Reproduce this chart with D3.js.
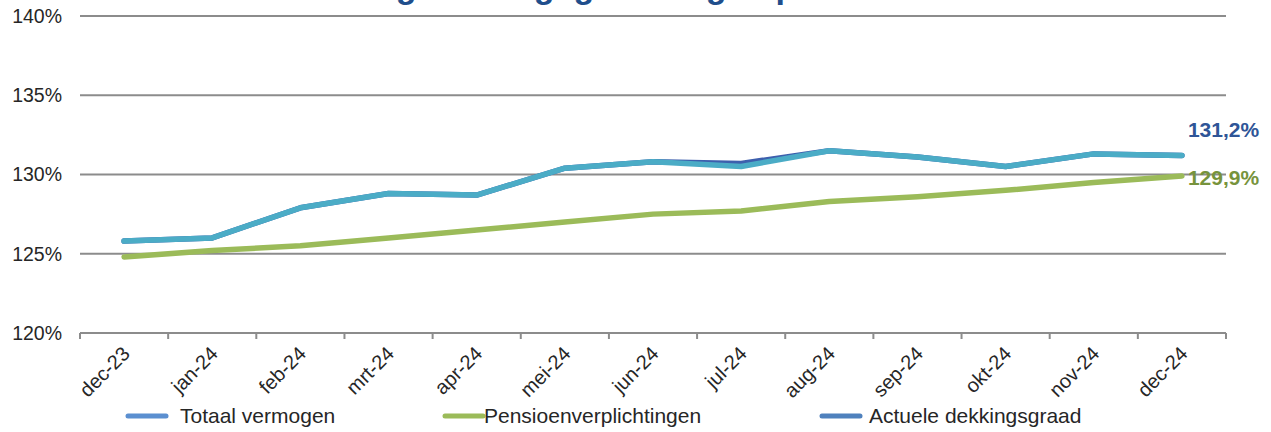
<!DOCTYPE html>
<html>
<head>
<meta charset="utf-8">
<script src="https://cdn.jsdelivr.net/npm/d3@7"></script>
<style>
  body { margin: 0; background: #fff; }
  svg { display: block; font-family: "Liberation Sans", Arial, sans-serif; }
</style>
</head>
<body>
<svg id="chart" width="1271" height="432"></svg>
<script>
const maanden = ["dec-23", "jan-24", "feb-24", "mrt-24", "apr-24", "mei-24", "jun-24",
                 "jul-24", "aug-24", "sep-24", "okt-24", "nov-24", "dec-24"];
const totaalVermogen = [125.8, 126.0, 127.9, 128.8, 128.7, 130.4, 130.8, 130.7, 131.5, 131.1, 130.5, 131.3, 131.2];
const actueleDekkingsgraad = [125.8, 126.0, 127.9, 128.8, 128.7, 130.4, 130.8, 130.5, 131.5, 131.1, 130.5, 131.3, 131.2];
const pensioenverplichtingen = [124.8, 125.2, 125.5, 126.0, 126.5, 127.0, 127.5, 127.7, 128.3, 128.6, 129.0, 129.5, 129.9];
const yTicks = [120, 125, 130, 135, 140];
const legendLabels = ["Totaal vermogen", "Pensioenverplichtingen", "Actuele dekkingsgraad"];
const titel = "Ontwikkeling dekkingsgraad afgelopen 12 maanden";

const svg = d3.select("#chart");
const margin = { top: 16, right: 45, bottom: 99, left: 80 };
const width = 1271 - margin.left - margin.right,
      height = 432 - margin.top - margin.bottom;

const g = svg.append("g").attr("transform", `translate(${margin.left},${margin.top})`);

const x = d3.scaleBand().domain(maanden).range([0, width]);
const y = d3.scaleLinear().domain([120, 140]).range([height, 0]);

// title (only its lower edge is in view, as in the original)
svg.append("text")
  .attr("x", 205)
  .attr("y", -2)
  .attr("font-size", 34)
  .attr("font-weight", "bold")
  .attr("fill", "#1F4E8C")
  .text(titel);

// gridlines
g.append("g")
  .selectAll("line")
  .data(yTicks.slice(1))
  .enter()
  .append("line")
  .attr("x1", 0).attr("x2", width)
  .attr("y1", d => y(d)).attr("y2", d => y(d))
  .attr("stroke", "#8c8c8c")
  .attr("stroke-width", 2);

// y axis labels
g.append("g")
  .call(d3.axisLeft(y).tickValues(yTicks).tickSize(0).tickPadding(18).tickFormat(d => d + "%"))
  .call(a => a.select(".domain").remove())
  .selectAll("text")
  .attr("font-size", 19.5)
  .attr("fill", "#262626")
  .attr("font-family", "Liberation Sans, Arial, sans-serif");

// x axis, ticks sit between the months
const xAxis = g.append("g").attr("transform", `translate(0,${height})`);
xAxis.append("line")
  .attr("x1", 0).attr("x2", width)
  .attr("stroke", "#8c8c8c").attr("stroke-width", 2);
xAxis.selectAll(".tk")
  .data(maanden.concat(["end"]))
  .enter()
  .append("line")
  .attr("class", "tk")
  .attr("x1", (d, i) => i * x.step()).attr("x2", (d, i) => i * x.step())
  .attr("y1", 0).attr("y2", 6)
  .attr("stroke", "#8c8c8c").attr("stroke-width", 2);
xAxis.selectAll(".lbl")
  .data(maanden)
  .enter()
  .append("text")
  .attr("class", "lbl")
  .attr("transform", d => `translate(${x(d) + x.bandwidth() / 2 + 2},${17}) rotate(-45)`)
  .attr("text-anchor", "end")
  .attr("dy", "0.35em")
  .attr("font-size", 20)
  .attr("fill", "#262626")
  .text(d => d);

const line = d3.line()
  .x((d, i) => x(maanden[i]) + x.bandwidth() / 2)
  .y(d => y(d));

// dark blue line underneath the teal one
g.append("path")
  .datum(totaalVermogen)
  .attr("fill", "none")
  .attr("stroke", "#3d5fad")
  .attr("stroke-width", 5.5)
  .attr("stroke-linejoin", "round")
  .attr("stroke-linecap", "round")
  .attr("d", line);

g.append("path")
  .datum(pensioenverplichtingen)
  .attr("fill", "none")
  .attr("stroke", "#9bbb59")
  .attr("stroke-width", 5.5)
  .attr("stroke-linejoin", "round")
  .attr("stroke-linecap", "round")
  .attr("d", line);

g.append("path")
  .datum(actueleDekkingsgraad)
  .attr("fill", "none")
  .attr("stroke", "#4bacc6")
  .attr("stroke-width", 5.5)
  .attr("stroke-linejoin", "round")
  .attr("stroke-linecap", "round")
  .attr("d", line);

// end value labels
const lastX = x(maanden[maanden.length - 1]) + x.bandwidth() / 2;
g.append("text")
  .attr("x", lastX + 6)
  .attr("y", y(totaalVermogen[12]) - 26)
  .attr("dy", "0.35em")
  .attr("font-size", 21)
  .attr("font-weight", "bold")
  .attr("fill", "#2f5597")
  .text(d3.format(".1f")(totaalVermogen[12]).replace(".", ",") + "%");
g.append("text")
  .attr("x", lastX + 6)
  .attr("y", y(pensioenverplichtingen[12]) + 2)
  .attr("dy", "0.35em")
  .attr("font-size", 21)
  .attr("font-weight", "bold")
  .attr("fill", "#77933c")
  .text(d3.format(".1f")(pensioenverplichtingen[12]).replace(".", ",") + "%");

// legend
const legendColors = ["#5b8fd0", "#9bbb59", "#4f81bd"];
const legendLineX = [128, 445, 822];
const legendTextX = [180, 484, 869];
const legend = svg.append("g").attr("transform", "translate(0,416)");
legendLabels.forEach((lab, i) => {
  legend.append("line")
    .attr("x1", legendLineX[i]).attr("x2", legendLineX[i] + 38)
    .attr("stroke", legendColors[i])
    .attr("stroke-width", 5)
    .attr("stroke-linecap", "round");
  legend.append("text")
    .attr("x", legendTextX[i])
    .attr("dy", "0.35em")
    .attr("font-size", 21)
    .attr("fill", "#262626")
    .text(lab);
});
</script>
</body>
</html>
